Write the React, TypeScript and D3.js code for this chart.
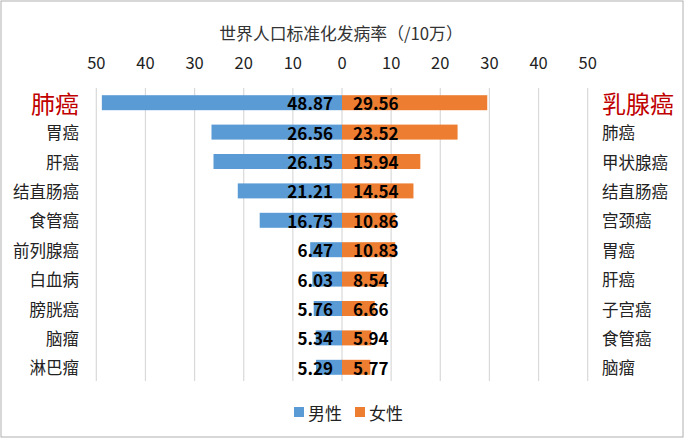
import React from "react";
import * as d3 from "d3";

const maleCategories = ["肺癌", "胃癌", "肝癌", "结直肠癌", "食管癌", "前列腺癌", "白血病", "膀胱癌", "脑瘤", "淋巴瘤"];
const maleValues = [48.87, 26.56, 26.15, 21.21, 16.75, 6.47, 6.03, 5.76, 5.34, 5.29];
const femaleCategories = ["乳腺癌", "肺癌", "甲状腺癌", "结直肠癌", "宫颈癌", "胃癌", "肝癌", "子宫癌", "食管癌", "脑瘤"];
const femaleValues = [29.56, 23.52, 15.94, 14.54, 10.86, 10.83, 8.54, 6.66, 5.94, 5.77];
const tickValues = [50, 40, 30, 20, 10, 0, 10, 20, 30, 40, 50];
const title = "世界人口标准化发病率（/10万）";
const legendLabels = ["男性", "女性"];

const W = 692;
const H = 440;
const FONT = "'Noto Sans CJK SC', 'Microsoft YaHei', sans-serif";
const BLUE = "#5B9BD5";
const ORANGE = "#ED7D31";
const RED = "#C00000";

export default function App() {
  const zero = 342;
  const xL = d3.scaleLinear().domain([0, 50]).range([zero, 96.3]);
  const xR = d3.scaleLinear().domain([0, 50]).range([zero, 587.7]);
  const idx = d3.range(maleCategories.length);
  const y = d3.scaleBand<number>().domain(idx).range([88, 382]).paddingInner(0.49).paddingOuter(0.245);
  const ticks = [0, 10, 20, 30, 40, 50];
  const bh = y.bandwidth();

  return (
    <svg width={W} height={H} style={{ position: "absolute", left: 0, top: 0, fontFamily: FONT }}>
      <rect x={1} y={1} width={682} height={436} fill="#fff" stroke="#b0b0b0" strokeWidth={1} />
      <text x={341} y={33} textAnchor="middle" dominantBaseline="central" fontSize={16.8} fill="#333">{title}</text>
      {/* gridlines */}
      {ticks.map((t) => (
        <g key={"g" + t}>
          <line x1={xL(t)} x2={xL(t)} y1={88} y2={381} stroke="#d9d9d9" strokeWidth={1.2} />
          {t !== 0 && <line x1={xR(t)} x2={xR(t)} y1={88} y2={381} stroke="#d9d9d9" strokeWidth={1.2} />}
        </g>
      ))}
      {/* tick labels */}
      {tickValues.map((v, i) => {
        const xp = i < 5 ? xL(v) : i === 5 ? zero : xR(v);
        return (
          <text key={"t" + i} x={xp} y={62} textAnchor="middle" dominantBaseline="central" fontSize={16.5} fill="#222">{v}</text>
        );
      })}
      {/* bars */}
      {idx.map((i) => (
        <g key={"b" + i}>
          <rect x={xL(maleValues[i])} y={y(i)} width={zero - xL(maleValues[i])} height={bh} fill={BLUE} />
          <rect x={zero} y={y(i)} width={xR(femaleValues[i]) - zero} height={bh} fill={ORANGE} />
        </g>
      ))}
      {/* value labels */}
      {idx.map((i) => {
        const cy = (y(i) as number) + bh / 2;
        return (
          <g key={"v" + i} fontSize={17} fontWeight="bold" fill="#000">
            <text x={zero - 9} y={cy} textAnchor="end" dominantBaseline="central">{maleValues[i].toFixed(2)}</text>
            <text x={zero + 11} y={cy} textAnchor="start" dominantBaseline="central">{femaleValues[i].toFixed(2)}</text>
          </g>
        );
      })}
      {/* category labels */}
      {idx.map((i) => {
        const cy = (y(i) as number) + bh / 2;
        const first = i === 0;
        return (
          <g key={"c" + i}>
            <text x={79} y={cy} textAnchor="end" dominantBaseline="central" fontSize={first ? 24 : 16.5} fill={first ? RED : "#222"}>{maleCategories[i]}</text>
            <text x={602} y={cy} textAnchor="start" dominantBaseline="central" fontSize={first ? 24 : 16.5} fill={first ? RED : "#222"}>{femaleCategories[i]}</text>
          </g>
        );
      })}
      {/* legend */}
      <rect x={294} y={407} width={10} height={10} fill={BLUE} />
      <text x={308} y={412} dominantBaseline="central" fontSize={17} fill="#222">{legendLabels[0]}</text>
      <rect x={355} y={407} width={10} height={10} fill={ORANGE} />
      <text x={369} y={412} dominantBaseline="central" fontSize={17} fill="#222">{legendLabels[1]}</text>
    </svg>
  );
}
